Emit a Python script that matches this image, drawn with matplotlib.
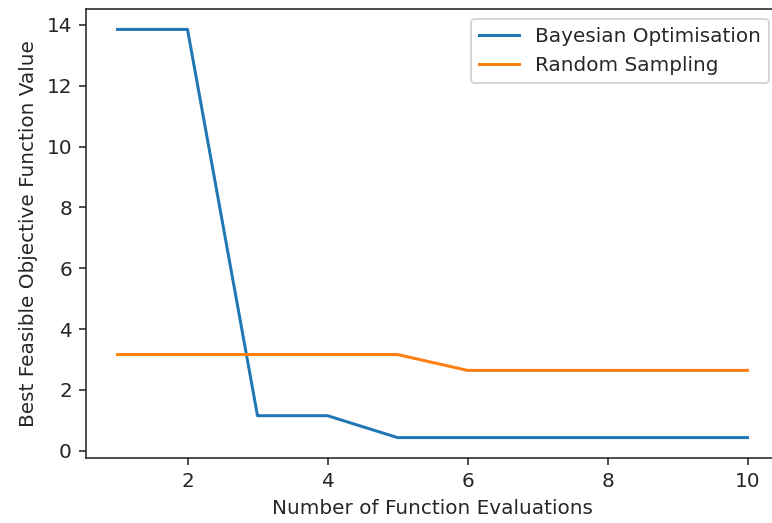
import matplotlib
matplotlib.use("Agg")
import matplotlib.pyplot as plt

evaluations = [1, 2, 3, 4, 5, 6, 7, 8, 9, 10]
bayesian = [13.85, 13.85, 1.15, 1.15, 0.43, 0.43, 0.43, 0.43, 0.43, 0.43]
random_sampling = [3.16, 3.16, 3.16, 3.16, 3.16, 2.64, 2.64, 2.64, 2.64, 2.64]

txt = "#262626"
plt.rcParams.update({
    "text.color": txt,
    "axes.labelcolor": txt,
    "xtick.color": txt,
    "ytick.color": txt,
    "axes.edgecolor": txt,
})

dpi = 144
fig = plt.figure(figsize=(772 / dpi, 523 / dpi), dpi=dpi)
ax = fig.add_axes([86 / 772, (523 - 458) / 523, 693 / 772, 449 / 523])
ax.plot(evaluations, bayesian, label="Bayesian Optimisation")
ax.plot(evaluations, random_sampling, label="Random Sampling")
ax.set_xlabel("Number of Function Evaluations")
ax.set_ylabel("Best Feasible Objective Function Value")
ax.legend(loc="upper right")
fig.savefig("out.png", dpi=dpi)
